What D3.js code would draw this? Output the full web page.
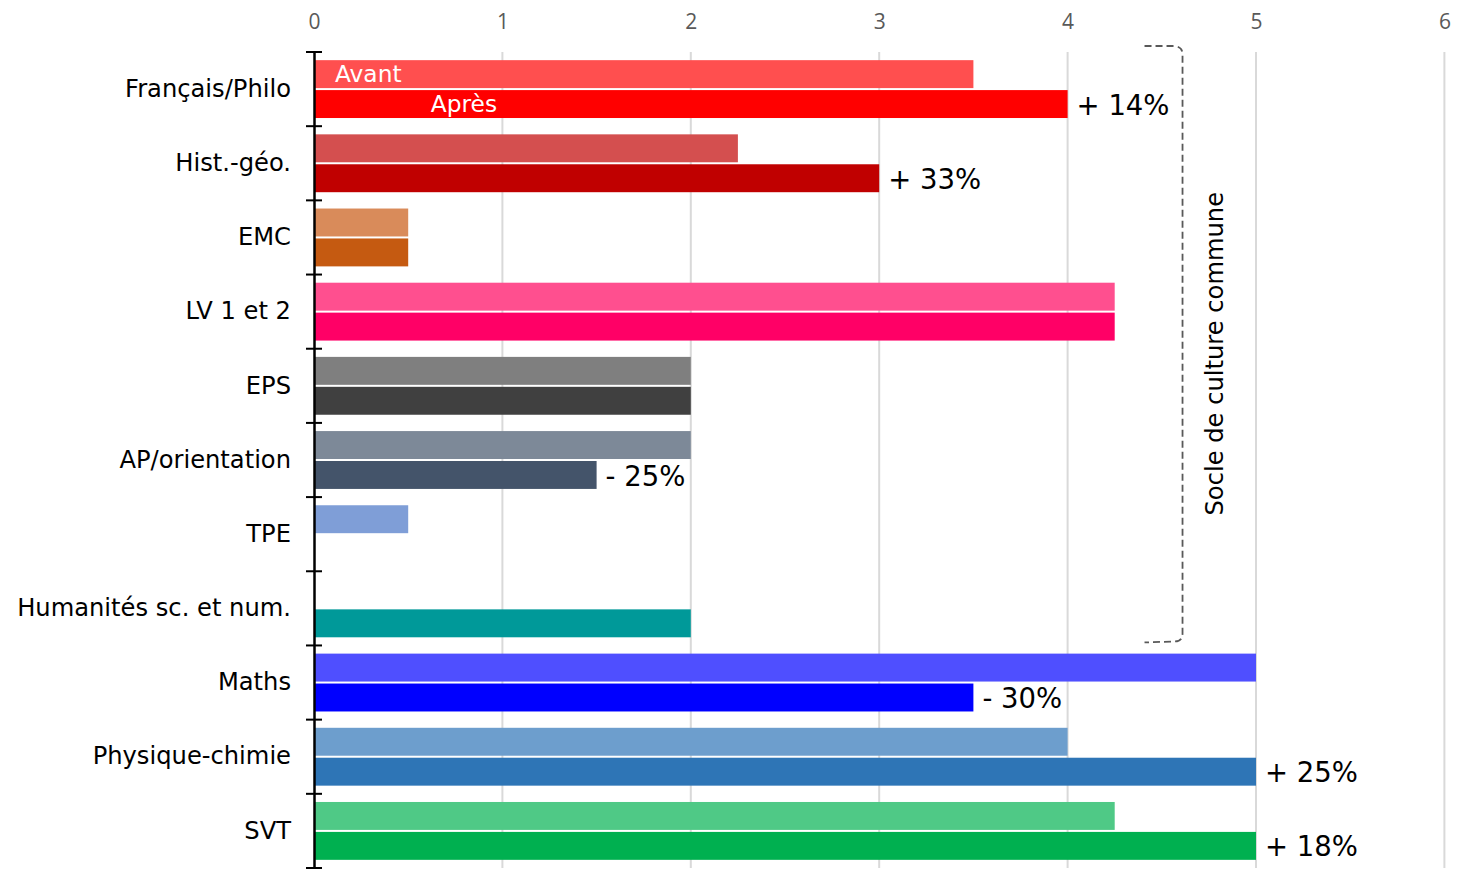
<!DOCTYPE html>
<html><head><meta charset="utf-8">
<script src="https://cdn.jsdelivr.net/npm/d3@7"></script>
<style>
html,body{margin:0;padding:0;background:#fff;}
svg{display:block;}
</style></head>
<body>
<svg id="chart" width="1461" height="872"></svg>
<script>
const categories = ["Français/Philo","Hist.-géo.","EMC","LV 1 et 2","EPS","AP/orientation","TPE","Humanités sc. et num.","Maths","Physique-chimie","SVT"];
const avant = [3.5, 2.25, 0.5, 4.25, 2, 2, 0.5, 0, 5, 4, 4.25];
const apres = [4, 3, 0.5, 4.25, 2, 1.5, 0, 2, 3.5, 5, 5];
const avantColors = ["#FF4F4F","#D44F4F","#D98B5A","#FF4F8F","#7F7F7F","#7D8998","#7F9ED7","#4FB8B8","#4F4FFF","#6D9ECD","#4FC986"];
const apresColors = ["#FF0000","#C00000","#C55A11","#FF0066","#404040","#44546A","#4472C4","#009999","#0000FF","#2E75B6","#00B050"];
const changes = ["+ 14%","+ 33%","","","","- 25%","","","- 30%","+ 25%","+ 18%"];
const xTicks = [0,1,2,3,4,5,6];
const seriesNames = ["Avant","Après"];
const bracketLabel = "Socle de culture commune";
const bracketFirst = 0, bracketLast = 7, bracketValue = 4.61;

const svg = d3.select("#chart");
const x = d3.scaleLinear().domain([0,6]).range([314, 1444.4]);
const y = d3.scaleBand().domain(categories).range([52, 868]);
const bw = y.bandwidth();
const sub = d3.scaleBand().domain(seriesNames).range([0, bw]).paddingInner(2/30).paddingOuter(0.2727);

// gridlines
svg.append("g").selectAll("line").data(xTicks.filter(d=>d>0)).join("line")
  .attr("x1", d=>x(d)).attr("x2", d=>x(d))
  .attr("y1", 52).attr("y2", 868)
  .attr("stroke", "#D9D9D9").attr("stroke-width", 2);

// top axis labels
const xAxis = d3.axisTop(x).tickValues(xTicks).tickSize(0).tickPadding(0).tickFormat(d3.format("d"));
const gx = svg.append("g").attr("transform","translate(0,29)").call(xAxis);
gx.select(".domain").remove();
gx.attr("font-size", 21);
gx.selectAll("text").attr("font-family","'Open Sans', sans-serif").attr("font-size",21).attr("fill","#595959");

// bars
const rows = categories.map((c,i)=>({c, i, av: avant[i], ap: apres[i]}));
const g = svg.append("g");
g.selectAll("rect.av").data(rows).join("rect").attr("class","av")
  .attr("x", x(0)+1).attr("y", d=>y(d.c)+sub("Avant"))
  .attr("width", d=>Math.max(0, x(d.av)-x(0)-1)).attr("height", sub.bandwidth())
  .attr("fill", d=>avantColors[d.i]);
g.selectAll("rect.ap").data(rows).join("rect").attr("class","ap")
  .attr("x", x(0)+1).attr("y", d=>y(d.c)+sub("Après"))
  .attr("width", d=>Math.max(0, x(d.ap)-x(0)-1)).attr("height", sub.bandwidth())
  .attr("fill", d=>apresColors[d.i]);

// series labels inside first bars
const c0 = categories[0];
svg.append("text").text(seriesNames[0]).attr("x", x(0)+21).attr("y", y(c0)+sub("Avant")+sub.bandwidth()/2)
  .attr("dy","0.35em").attr("font-family","'DejaVu Sans', Verdana, sans-serif").attr("font-size",23.3).attr("fill","#fff");
svg.append("text").text(seriesNames[1]).attr("x", x(0.62)).attr("y", y(c0)+sub("Après")+sub.bandwidth()/2)
  .attr("dy","0.35em").attr("font-family","'DejaVu Sans', Verdana, sans-serif").attr("font-size",23.3).attr("fill","#fff");

// change annotations
svg.append("g").selectAll("text").data(rows.filter(d=>changes[d.i])).join("text")
  .text(d=>changes[d.i])
  .attr("x", d=>x(d.ap)+9).attr("y", d=>y(d.c)+sub("Après")+sub.bandwidth()/2+1)
  .attr("dy","0.35em").attr("font-family","'DejaVu Sans', Verdana, sans-serif").attr("font-size",27.5).attr("fill","#000");

// left axis
const yAxis = d3.axisLeft(y).tickSize(0).tickPadding(23);
const gy = svg.append("g").attr("transform",`translate(${x(0)},0)`).call(yAxis);
gy.select(".domain").attr("stroke","#000").attr("stroke-width",2.5);
gy.selectAll("text").attr("font-family","'DejaVu Sans', Verdana, sans-serif").attr("font-size",24.2).attr("fill","#000");
// boundary ticks
const bounds = categories.map(c=>y(c)).concat([y.range()[1]]);
svg.append("g").selectAll("line").data(bounds).join("line")
  .attr("x1", x(0)-8).attr("x2", x(0)+8).attr("y1", d=>d).attr("y2", d=>d)
  .attr("stroke","#000").attr("stroke-width",2);

// bracket
const bx = x(bracketValue);
const bTop = y(categories[bracketFirst]) - 6;
const bBot = y(categories[bracketLast]) + bw - 4;
const path = d3.path();
path.moveTo(bx-38, bTop);
path.lineTo(bx-8, bTop);
path.quadraticCurveTo(bx, bTop+1, bx, bTop+8);
path.lineTo(bx, bBot-8);
path.quadraticCurveTo(bx, bBot, bx-8, bBot);
path.lineTo(bx-38, bBot+1);
svg.append("path").attr("d", path.toString()).attr("fill","none")
  .attr("stroke","#595959").attr("stroke-width",1.8).attr("stroke-dasharray","7,4");
svg.append("text").text(bracketLabel)
  .attr("transform", `translate(${bx+40},${(bTop+bBot)/2+10}) rotate(-90)`)
  .attr("text-anchor","middle").attr("font-family","'DejaVu Sans', Verdana, sans-serif")
  .attr("font-size",24.2).attr("fill","#000");
</script>
</body></html>
